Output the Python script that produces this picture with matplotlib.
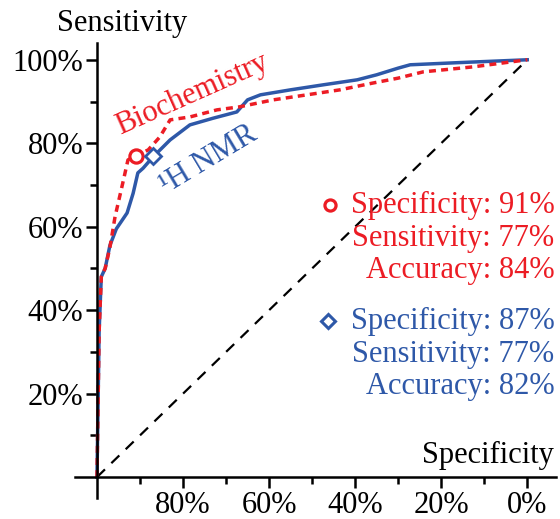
import numpy as np
import matplotlib
matplotlib.use("Agg")
import matplotlib.pyplot as plt

plt.rcParams['font.family'] = ['Liberation Serif', 'DejaVu Serif']

RED = '#ec1c24'
BLUE = '#2e58a8'

# ROC points, x = 100 - specificity (%), y = sensitivity (%)
nmr_fpr = [0, 0.5, 1.0, 1.9, 3.0, 4.5, 7.0, 8.4, 9.5, 10.7, 13.0, 17.0, 21.6, 27.0,
           32.5, 35.0, 38.0, 45.0, 52.6, 60.5, 65.0, 70.0, 72.8, 83.7, 100]
nmr_sens = [0, 35.0, 48.0, 50.0, 55.5, 59.5, 63.3, 68.0, 72.9, 74.0, 76.7, 80.8, 84.4,
            86.0, 87.5, 90.4, 91.6, 92.8, 94.0, 95.2, 96.4, 98.0, 98.8, 99.3, 100]

bio_fpr = [0, 0.5, 1.0, 1.9, 3.0, 4.2, 6.0, 7.2, 9.0, 11.9, 14.6, 17.0, 21.6,
           27.9, 33.0, 41.0, 48.8, 56.5, 64.0, 70.0, 75.8, 87.4, 100]
bio_sens = [0, 35.0, 48.0, 50.0, 55.0, 62.4, 70.5, 76.0, 77.0, 78.4, 81.5, 85.6,
            86.3, 88.0, 88.7, 90.4, 91.6, 92.8, 94.4, 95.6, 97.1, 98.3, 100]

# operating points (specificity, sensitivity)
bio_point = (91, 77)
nmr_point = (87, 77)

bio_stats = ['Specificity: 91%', 'Sensitivity: 77%', 'Accuracy: 84%']
nmr_stats = ['Specificity: 87%', 'Sensitivity: 77%', 'Accuracy: 82%']

x_ticks = [20, 40, 60, 80, 100]
x_labels = ['80%', '60%', '40%', '20%', '0%']
y_ticks = [20, 40, 60, 80, 100]
y_labels = ['20%', '40%', '60%', '80%', '100%']

FS = 22

fig = plt.figure(figsize=(5.6, 5.19), dpi=100)
ax = fig.add_axes([0.134, 0.0405, 0.859, 0.8765])

ax.plot([0, 100], [0, 100], color='black', lw=1.6, dashes=(5, 4))
ax.plot(nmr_fpr, nmr_sens, color=BLUE, lw=2.5, solid_joinstyle='round')
ax.plot(bio_fpr, bio_sens, color=RED, lw=2.5, dashes=(2.0, 1.5))

ax.plot(100 - bio_point[0], bio_point[1], 'o', ms=9.5, mfc='white', mec=RED, mew=2.3)
ax.plot(100 - nmr_point[0], nmr_point[1], 'D', ms=8.5, mfc='white', mec=BLUE, mew=2.0)

ax.set_xlim(-5.1, 106.7)
ax.set_ylim(-5.0, 104.0)

for s in ['top', 'right']:
    ax.spines[s].set_visible(False)
ax.spines['left'].set_position(('data', 0))
ax.spines['bottom'].set_position(('data', 0))
ax.spines['left'].set_linewidth(1.8)
ax.spines['bottom'].set_linewidth(1.8)

ax.set_xticks(x_ticks)
ax.set_xticklabels(x_labels)
ax.set_xticks([10, 30, 50, 70, 90], minor=True)
ax.set_yticks(y_ticks)
ax.set_yticklabels(y_labels)
ax.set_yticks([10, 30, 50, 70, 90], minor=True)
ax.tick_params(which='major', direction='out', length=8, width=1.8, labelsize=FS, pad=2)
ax.tick_params(which='minor', direction='out', length=5, width=1.8)

ax.text(5.8, 108.6, 'Sensitivity', fontsize=FS, ha='center', va='center', clip_on=False)
ax.text(106.3, 5.3, 'Specificity', fontsize=FS, ha='right', va='center')

ax.text(22.0, 91.8, 'Biochemistry', color=RED, fontsize=FS, rotation=24,
        ha='center', va='center', rotation_mode='anchor')
ax.text(26.0, 76.0, '\u00b9H NMR', color=BLUE, fontsize=FS, rotation=31,
        ha='center', va='center', rotation_mode='anchor')

for i, s in enumerate(bio_stats):
    ax.text(106.3, 65.0 - 7.8 * i, s, color=RED, fontsize=FS, ha='right', va='center')
for i, s in enumerate(nmr_stats):
    ax.text(106.3, 37.2 - 7.8 * i, s, color=BLUE, fontsize=FS, ha='right', va='center')
ax.plot(54.2, 65.3, 'o', ms=8, mfc='white', mec=RED, mew=2.3, clip_on=False)
ax.plot(53.7, 37.5, 'D', ms=7.5, mfc='white', mec=BLUE, mew=2.2, clip_on=False)

fig.savefig('out.png', dpi=100)
